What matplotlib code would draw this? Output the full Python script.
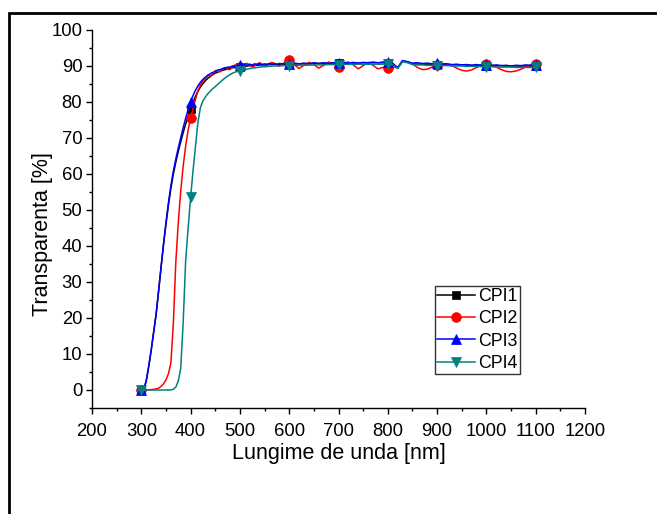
import matplotlib
matplotlib.use("Agg")
import matplotlib.pyplot as plt
from matplotlib.patches import Rectangle
from matplotlib.ticker import MultipleLocator

plt.rcParams['font.family'] = ['Liberation Sans', 'DejaVu Sans']

# wavelength grid [nm]: 5 nm steps up to 595, 10 nm steps from 600 to 1100
wavelength = list(range(300, 600, 5)) + list(range(600, 1101, 10))

cpi1 = [
    0, 0.3, 2.5, 6.5, 11, 16, 21, 27.3, 34, 40.3,
    46, 51.3, 56, 60, 63.3, 66.3, 69, 71.5, 73.9, 76,
    78, 79.9, 81.6, 83, 84.2, 85.1, 85.9, 86.6, 87.1, 87.6,
    88, 88.3, 88.6, 88.8, 89, 89.2, 89.4, 89.5, 89.6, 89.7,
    89.6, 89.8, 89.9, 90, 90.1, 90.1, 90.2, 90.2, 90.3, 90.3,
    90.3, 90.4, 90.4, 90.4, 90.5, 90.4, 90.5, 90.5, 90.5, 90.5,
    90.5, 90.5, 90.6, 90.6, 90.6, 90.7, 90.7, 90.7, 90.8, 90.8,
    90.8, 90.8, 90.8, 90.8, 90.8, 90.9, 90.9, 90.9, 90.9, 90.9,
    90.9, 90.6, 89.5, 91.3, 91.1, 90.6, 90.5, 90.5, 90.5, 90.5,
    90.4, 90.4, 90.4, 90.3, 90.3, 90.3, 90.2, 90.2, 90.2, 90.2,
    90.1, 90.1, 90.1, 90.1, 90.0, 90.0, 90.0, 90.0, 90.0, 90.0,
    90.0,
]

cpi2 = [
    0, 0, 0, 0.05, 0.1, 0.2, 0.3, 0.5, 1, 1.7,
    2.8, 4.5, 7.5, 18.5, 35.5, 46.5, 55.3, 62.3, 67.8, 72.2,
    75.5, 78.2, 80.8, 83.2, 84.8, 85.8, 86.4, 87.5, 87.2, 87.8,
    88.7, 88.5, 88.4, 89.2, 89.6, 89.1, 89.0, 89.7, 90.3, 90.2,
    89.6, 89.9, 90.6, 90.7, 90.2, 89.8, 90.0, 90.6, 90.9, 90.5,
    90.0, 90.1, 90.6, 91.0, 90.7, 90.2, 90.0, 90.3, 90.9, 91.4,
    91.6, 90.4, 89.3, 90.2, 91.0, 90.4, 89.4, 90.2, 91.1, 90.6,
    89.6, 90.8, 91.1, 90.3, 89.2, 90.1, 91.0, 90.2, 89.2, 89.6,
    89.4, 89.9, 89.4, 91.5, 91.1, 90.6, 89.6, 89.0, 89.1, 89.7,
    90.3, 90.7, 90.6, 90.1, 89.4, 88.8, 88.6, 88.9, 89.6, 90.3,
    90.6, 90.4, 89.7, 89.0, 88.5, 88.4, 88.6, 89.1, 89.8, 90.3,
    90.6,
]

cpi3 = [
    0, 0.3, 2.5, 6.5, 11, 16, 21, 27.5, 34, 40.5,
    46.5, 52, 56.8, 60.8, 64.2, 67.2, 70.1, 72.9, 75.5, 77.9,
    80, 81.8, 83.3, 84.5, 85.5, 86.3, 86.9, 87.4, 87.9, 88.2,
    88.5, 88.9, 89.0, 89.3, 89.4, 89.7, 89.7, 90.0, 89.9, 90.2,
    90.2, 90.1, 90.4, 90.2, 90.5, 90.3, 90.6, 90.4, 90.6, 90.4,
    90.6, 90.5, 90.7, 90.5, 90.7, 90.5, 90.7, 90.6, 90.7, 90.6,
    90.6, 90.8, 90.6, 90.8, 90.6, 90.9, 90.7, 90.9, 90.7, 90.9,
    90.8, 91.0, 90.8, 91.0, 90.8, 91.0, 90.9, 91.1, 90.9, 91.1,
    91.1, 90.7, 89.6, 91.5, 91.2, 90.8, 90.9, 90.7, 90.8, 90.6,
    90.7, 90.5, 90.6, 90.4, 90.5, 90.3, 90.4, 90.2, 90.4, 90.2,
    90.3, 90.1, 90.3, 90.1, 90.2, 90.0, 90.2, 90.1, 90.3, 90.2,
    90.4,
]

cpi4 = [
    0, 0, 0, 0, 0, 0, 0, 0, 0, 0,
    0, 0, 0, 0.2, 0.8, 2.5, 6, 19, 36, 45,
    53.5, 61, 67.8, 74.5, 78.5, 80.3, 81.4, 82.3, 83, 83.7,
    84.3, 84.9, 85.5, 86.1, 86.7, 87.2, 87.6, 88.0, 88.3, 88.5,
    88.6, 88.8, 89.0, 89.15, 89.3, 89.4, 89.5, 89.6, 89.7, 89.75,
    89.8, 89.85, 89.9, 89.95, 90.0, 90.0, 90.05, 90.1, 90.1, 90.1,
    90.1, 90.15, 90.2, 90.2, 90.25, 90.3, 90.3, 90.35, 90.4, 90.4,
    90.4, 90.45, 90.45, 90.5, 90.5, 90.5, 90.5, 90.5, 90.5, 90.5,
    90.5, 90.3, 89.3, 91.2, 90.9, 90.4, 90.3, 90.3, 90.2, 90.2,
    90.1, 90.1, 90.1, 90.0, 90.0, 90.0, 89.9, 89.9, 89.9, 89.8,
    89.8, 89.8, 89.7, 89.7, 89.7, 89.7, 89.6, 89.6, 89.6, 89.6,
    89.6,
]

series_names = ["CPI1", "CPI2", "CPI3", "CPI4"]
series_values = [cpi1, cpi2, cpi3, cpi4]
colors = ["#000000", "#ff0000", "#0000ff", "#008080"]
markers = ["s", "o", "^", "v"]
marker_sizes = [6, 7, 7.5, 7.5]

fig = plt.figure(figsize=(6.57, 5.14), dpi=100)
ax = fig.add_axes([92 / 657, 1 - 408 / 514, 493 / 657, 378 / 514])

# outer frame around the figure (open at the right and bottom edges)
fig.patches.append(Rectangle((9 / 657, -0.05), 1.0, 1 - 13 / 514 + 0.05,
                             transform=fig.transFigure, fill=False,
                             edgecolor="black", linewidth=2))

mark_idx = [i for i, w in enumerate(wavelength) if w % 100 == 0]
for name, vals, c, m, ms in zip(series_names, series_values, colors, markers, marker_sizes):
    ax.plot(wavelength, vals, color=c, lw=1.1, marker=m, ms=ms,
            markevery=mark_idx, mfc=c, mec=c, mew=0.5, label=name)

ax.set_xlim(200, 1200)
ax.set_ylim(-5, 100)
ax.xaxis.set_major_locator(MultipleLocator(100))
ax.xaxis.set_minor_locator(MultipleLocator(50))
ax.yaxis.set_major_locator(MultipleLocator(10))
ax.yaxis.set_minor_locator(MultipleLocator(5))

for side in ("top", "right"):
    ax.spines[side].set_visible(False)
for side in ("left", "bottom"):
    ax.spines[side].set_linewidth(1.0)

ax.tick_params(which="major", direction="out", length=4.5, width=1.0,
               labelsize=13.3)
ax.tick_params(axis="x", which="major", pad=6)
ax.tick_params(axis="y", which="major", pad=2.5)
ax.tick_params(which="minor", direction="out", length=2.3, width=1.0)

ax.set_xlabel("Lungime de unda [nm]", fontsize=15.5, labelpad=2.5)
ax.set_ylabel("Transparenta [%]", fontsize=15.5)
ax.yaxis.set_label_coords(-0.079, 0.46)

leg = ax.legend(loc="upper left", bbox_to_anchor=(0.696, 0.323), fontsize=12.8,
                frameon=True, fancybox=False, shadow=False, borderpad=0.12,
                labelspacing=0.3, handlelength=2.1, handletextpad=0.2,
                borderaxespad=0)
leg.get_frame().set_edgecolor("black")
leg.get_frame().set_linewidth(1.0)

fig.savefig("out.png", dpi=100)
